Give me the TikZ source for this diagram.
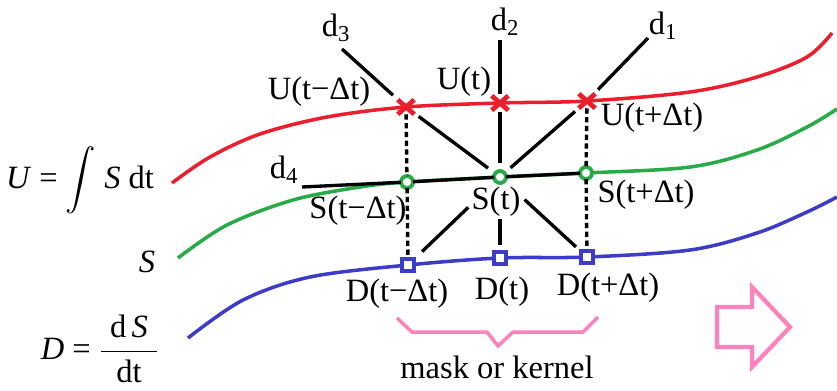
\RequirePackage{fix-cm}
\documentclass[tikz,border=0pt]{standalone}
\usepackage{amsmath}
\usepackage{fontspec}
\setmainfont{Liberation Serif}
\usetikzlibrary{shapes.misc,positioning}
\definecolor{ured}{RGB}{235,30,45}
\definecolor{sgreen}{RGB}{40,170,70}
\definecolor{dblue}{RGB}{60,60,200}
\definecolor{mpink}{RGB}{255,130,190}

\begin{document}
\begin{tikzpicture}[
    x=0.02cm, y=-0.02cm,
    font=\fontsize{18.5}{22}\selectfont,
    curve/.style={line width=2pt},
    ray/.style={line width=1.9pt},
    dashline/.style={line width=1.9pt, dash pattern=on 3pt off 2pt},
    ux/.style={cross out, draw=ured, line width=2.7pt, minimum width=0.26cm, minimum height=0.22cm, inner sep=0pt, outer sep=1pt},
    so/.style={circle, draw=sgreen, fill=white, line width=2.2pt, minimum size=0.24cm, inner sep=0pt, outer sep=0pt},
    db/.style={rectangle, draw=dblue, fill=white, line width=2.4pt, minimum size=0.23cm, inner sep=0pt, outer sep=1pt}
]
\useasboundingbox (0,0) rectangle (837,390);

% the three curves
\draw[curve, ured] plot[smooth, tension=0.55] coordinates {(172,183) (210,157) (260,134) (327,117) (406,107) (500,103) (587,101) (690,92) (757,77) (807,57) (832,33)};
\draw[curve, sgreen] plot[smooth, tension=0.55] coordinates {(178,258) (227,225) (293,200) (360,187) (407,182) (500,177) (586,173) (690,167) (757,150) (807,127) (837,109)};
\draw[curve, dblue] plot[smooth, tension=0.55] coordinates {(188,338) (243,300) (310,277) (408,265) (500,258) (587,257) (690,250) (757,233) (807,212) (837,197)};

% samples
\node[ux] (Um) at (406,107) {};
\node[ux] (U0) at (500,103) {};
\node[ux] (Up) at (587,101) {};
\node[so] (Sm) at (407,182) {};
\node[so] (S0) at (500,177) {};
\node[so] (Sp) at (586,173) {};
\node[db] (Dm) at (408,265) {};
\node[db] (D0) at (500,258) {};
\node[db] (Dp) at (587,257) {};

% directions
\coordinate (d1end) at (648,38);
\coordinate (d2end) at (500,40);
\coordinate (d3end) at (342,49);
\coordinate (d4end) at (302,187);
\node (d1) at (663,26) {d\textsubscript{1}};
\node (d2) at (505,22) {d\textsubscript{2}};
\node (d3) at (336,28) {d\textsubscript{3}};
\node (d4) at (284,170) {d\textsubscript{4}};

\draw[ray, shorten >=10pt] (d3end) -- (Um.center);
\draw[ray, shorten <=9pt, shorten >=8.5pt] (Um.center) -- (S0.center);
\draw[ray, shorten <=19pt, shorten >=8.5pt] (S0.center) -- (Dp.center);
\draw[ray, shorten >=5pt] (d2end) -- (U0.center);
\draw[ray, shorten <=5pt, shorten >=8pt] (U0.center) -- (S0.center);
\draw[ray, shorten <=24pt, shorten >=7.5pt] (S0.center) -- (D0.center);
\draw[ray, shorten >=9pt] (d1end) -- (Up.center);
\draw[ray, shorten <=9pt, shorten >=8pt] (Up.center) -- (S0.center);
\draw[ray, shorten <=25pt, shorten >=11pt] (S0.center) -- (Dm.center);
\draw[ray] (d4end) -- (Sm) -- (S0) -- (Sp);
\draw[dashline] (Um) -- (Sm) -- (Dm);
\draw[dashline] (Up) -- (Sp) -- (Dp);

% labels
\node (lUm) at (319,92) {U(t−Δt)};
\node (lU0) at (464,82) {U(t)};
\node (lUp) at (652,118) {U(t+Δt)};
\node (lSm) at (358,211) {S(t−Δt)};
\node (lS0) at (496,202) {S(t)};
\node (lSp) at (646,195) {S(t+Δt)};
\node (lDm) at (397,294) {D(t−Δt)};
\node (lD0) at (502,292) {D(t)};
\node (lDp) at (608,288) {D(t+Δt)};

\node (Ueq) at (80,180) {\textit{U} = $\displaystyle\int$ \textit{S} dt};
\node (Seq) at (147,262) {\textit{S}};
\node[inner sep=0pt] (Deq) at (100,349) {\textit{D}\ =\ $\dfrac{\;\text{d}\,\textit{S}\;}{\text{dt}}$};

% mask
\draw[mpink, line width=2pt] (397,318) -- (412,332) -- (487,332) -- (498,346) -- (513,332) -- (583,332) -- (598,317);
\node (mask) at (497,367) {mask or kernel};

% hollow arrow
\draw[mpink, line width=2.4pt] (717,307) -- (752,307) -- (752,287) -- (790,327) -- (752,367) -- (752,347) -- (717,347) -- cycle;

\end{tikzpicture}
\end{document}
